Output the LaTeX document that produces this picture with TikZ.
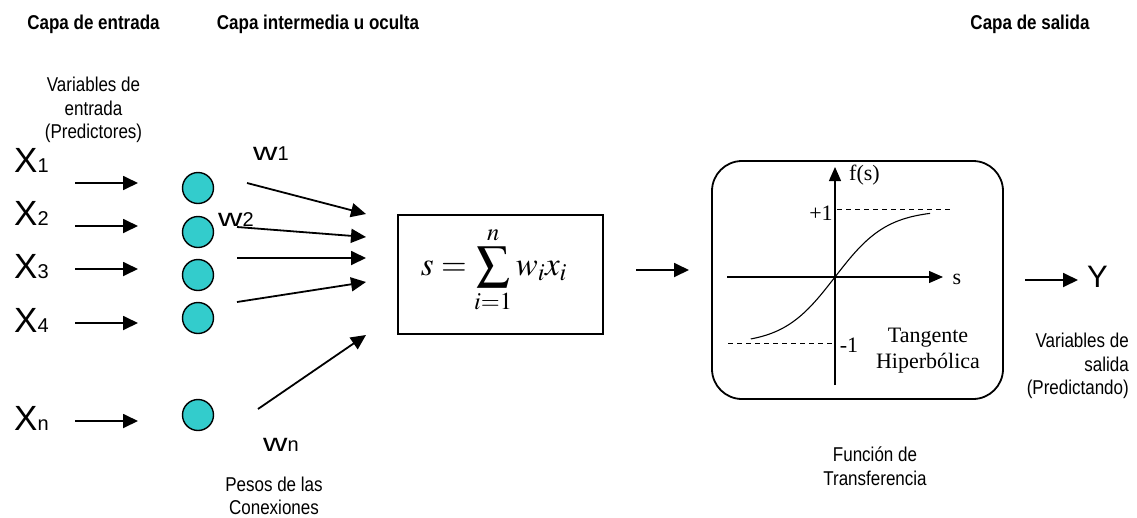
\documentclass[tikz,border=0pt]{standalone}
\usepackage{mathptmx}
\usepackage[no-math]{fontspec}
\setmainfont{Liberation Sans}
\newfontfamily\narrowsf[FakeStretch=0.85]{Liberation Sans}
\newfontfamily\widesf[FakeStretch=1.35]{Liberation Sans}
\newfontfamily\plotrm{Liberation Serif}
\usetikzlibrary{arrows.meta, positioning}
\definecolor{neuronCyan}{HTML}{33CCCC}
\newcommand{\smallidx}[1]{{\fontsize{20}{24}\selectfont #1}}

\begin{document}
\begin{tikzpicture}[x=1pt, y=-1pt,
      >={Triangle[length=15pt, width=14pt]},
      sig/.style={->, line width=1.8pt},
      axis/.style={-{Triangle[length=14pt, width=12pt]}, line width=1.3pt},
      guide/.style={line width=0.7pt, dash pattern=on 5pt off 4pt},
      neuron/.style={circle, draw, line width=1.4pt, fill=neuronCyan,
                     minimum size=31pt, inner sep=0pt},
      layer/.style={inner sep=0pt, font=\narrowsf\bfseries\fontsize{20}{24}\selectfont},
      note/.style={inner sep=0pt, align=center, font=\narrowsf\fontsize{20}{23.5}\selectfont},
      invar/.style={anchor=base west, inner sep=0pt, font=\fontsize{35}{40}\selectfont},
      weight/.style={anchor=base west, inner sep=0pt},
      plotlbl/.style={inner sep=0pt, font=\plotrm\fontsize{22}{26}\selectfont}]
    \useasboundingbox (0,0) rectangle (1137,517);

    \node[layer, anchor=base] (capin)  at (93.5,29) {Capa de entrada};
    \node[layer, anchor=base] (capmid) at (318,29)  {Capa intermedia u oculta};
    \node[layer, anchor=base] (capout) at (1030,29) {Capa de salida};
    \node[note] (invars) at (93.5,110) {Variables de\\entrada\\(Predictores)};

    \node[invar] (x1) at (14,172) {X\smallidx{1}};
    \node[invar] (x2) at (14,225) {X\smallidx{2}};
    \node[invar] (x3) at (14,278) {X\smallidx{3}};
    \node[invar] (x4) at (14,332) {X\smallidx{4}};
    \node[invar] (xn) at (14,430) {X\smallidx{n}};

    \coordinate (in1a) at (75,183); \coordinate (in1b) at (138,183);
    \coordinate (in2a) at (75,226); \coordinate (in2b) at (138,226);
    \coordinate (in3a) at (75,269); \coordinate (in3b) at (138,269);
    \coordinate (in4a) at (75,323); \coordinate (in4b) at (138,323);
    \coordinate (inna) at (75,421); \coordinate (innb) at (138,421);
    \draw[sig] (in1a) -- (in1b);
    \draw[sig] (in2a) -- (in2b);
    \draw[sig] (in3a) -- (in3b);
    \draw[sig] (in4a) -- (in4b);
    \draw[sig] (inna) -- (innb);

    \node[neuron] (n1) at (198,188) {};
    \node[neuron] (n2) at (198,232) {};
    \node[neuron] (n3) at (198,275) {};
    \node[neuron] (n4) at (198,318) {};
    \node[neuron] (nn) at (198,415) {};

    \node[weight] (w1) at (253,160) {{\widesf\fontsize{25}{30}\selectfont w}\smallidx{1}};
    \node[weight] (w2) at (218,226) {{\widesf\fontsize{25}{30}\selectfont w}\smallidx{2}};
    \node[weight] (wn) at (263,451) {{\widesf\fontsize{25}{30}\selectfont w}\smallidx{n}};
    \node[note] (pesos) at (274,496) {Pesos de las\\Conexiones};

    \coordinate (wt1) at (247,183); \coordinate (wh1) at (366,214);
    \coordinate (wt2) at (237,227); \coordinate (wh2) at (366,237);
    \coordinate (wt3) at (237,258); \coordinate (wh3) at (366,258);
    \coordinate (wt4) at (237,302); \coordinate (wh4) at (366,282);
    \coordinate (wtn) at (258,409); \coordinate (whn) at (366,335);
    \draw[sig] (wt1) -- (wh1);
    \draw[sig] (wt2) -- (wh2);
    \draw[sig] (wt3) -- (wh3);
    \draw[sig] (wt4) -- (wh4);
    \draw[sig] (wtn) -- (whn);

    \node[draw, line width=1.5pt, minimum width=205pt, minimum height=119pt,
          inner sep=0pt] (sumbox) at (500.5,274.5) {};
    \node[font=\fontsize{33}{39}\selectfont] (sumeq) at (494,270)
         {$\displaystyle s=\sum_{i=1}^{n} w_i x_i$};

    \coordinate (fa) at (636,270); \coordinate (fb) at (689,270);
    \draw[sig] (fa) -- (fb);

    \node[draw, line width=1.8pt, rounded corners=30pt, minimum width=291pt,
          minimum height=238pt, inner sep=0pt] (tfbox) at (857.5,280) {};
    \coordinate (ybot) at (835,385); \coordinate (ytop) at (835,167);
    \coordinate (xlft) at (727,277); \coordinate (xrgt) at (943,277);
    \draw[axis] (ybot) -- (ytop);
    \draw[axis] (xlft) -- (xrgt);
    \coordinate (pla) at (837,209); \coordinate (plb) at (953,209);
    \coordinate (mia) at (728,343); \coordinate (mib) at (835,343);
    \draw[guide] (pla) -- (plb);
    \draw[guide] (mia) -- (mib);
    \draw[line width=1.1pt] plot[domain=-1.62:1.83, samples=60]
         ({835+52*\x},{277-67*tanh(\x)});
    \node[plotlbl, anchor=west] (fs) at (849,175) {f(s)};
    \node[plotlbl] (plus1)  at (821,213) {+1};
    \node[plotlbl] (minus1) at (849,345) {-1};
    \node[plotlbl] (sl)     at (957,279) {s};
    \node[plotlbl, align=center] (tanhl) at (928,351) {Tangente\\Hiperbólica};
    \node[note] (transf) at (875,466) {Función de\\Transferencia};

    \coordinate (oa) at (1025,280); \coordinate (ob) at (1078,280);
    \draw[sig] (oa) -- (ob);
    \node[invar, font=\fontsize{31}{36}\selectfont] (yout) at (1087,287) {Y};
    \node[note, align=right, anchor=east] (outvars) at (1129,366)
         {Variables de\\salida\\(Predictando)};
  \end{tikzpicture}
\end{document}
